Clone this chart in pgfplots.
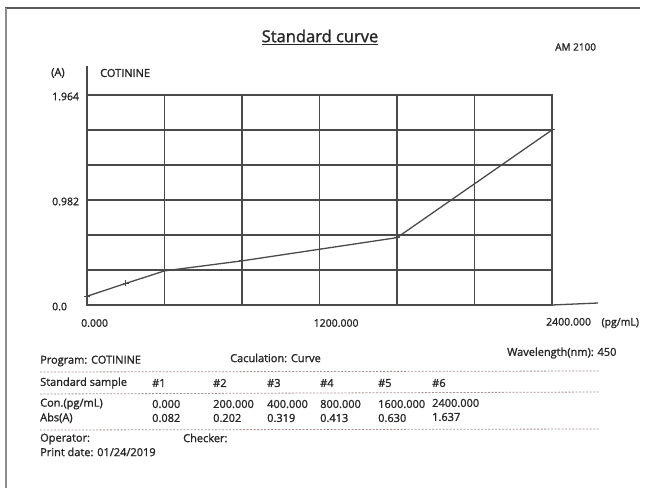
\documentclass[border=0pt]{standalone}
\usepackage{pgfplots}
\pgfplotsset{compat=1.18}
\usepackage{fontspec}
\setmainfont{Open Sans}[UprightFeatures={FakeBold=1.4}]
\definecolor{ink}{HTML}{262626}
\definecolor{gridc}{HTML}{4A4A4A}
\definecolor{dotc}{HTML}{A89090}
\begin{document}
\begin{tikzpicture}[every node/.style={inner sep=0pt, text=ink}]
\useasboundingbox (0,0) rectangle (647bp,-488bp);
\fill[white] (0,0) rectangle (647bp,-488bp);
% page frame
\draw[color=black!65, line width=1.5bp] (5bp,-8bp) -- (640bp,-8bp);
\draw[color=black!45, line width=2bp] (5.5bp,-8bp) -- (5.5bp,-488bp);
% title
\node at (320bp,-37bp) {\fontsize{16.5bp}{19bp}\selectfont\underline{Standard curve}};
\node[anchor=west] at (555bp,-47bp) {\fontsize{10bp}{12bp}\selectfont AM 2100};
\node[anchor=west] at (51bp,-73bp) {\fontsize{11bp}{13bp}\selectfont (A)};
\node[anchor=west] at (100bp,-73bp) {\fontsize{11bp}{13bp}\selectfont COTININE};
% axis extensions
\draw[color=gridc, line width=1.3bp] (87bp,-95bp) -- (87bp,-66bp);
\draw[color=gridc, line width=1.3bp] (552bp,-305bp) -- (598bp,-303bp);
\begin{axis}[
  at={(87bp,-305bp)}, anchor=south west,
  scale only axis, width=465bp, height=210bp,
  xmin=0, xmax=2400, ymin=0, ymax=1.964,
  xtick={0,1200,2400}, minor xtick={400,800,1600,2000},
  ytick={0,0.982,1.964}, minor ytick={0.32733,0.65467,1.30933,1.63667},
  xticklabels={0.000,1200.000,{2400.000\quad(pg/mL)}},
  yticklabels={0.0,0.982,1.964},
  grid=both,
  major grid style={color=gridc, line width=1.3bp},
  minor grid style={color=gridc, line width=1.3bp},
  axis line style={color=gridc, line width=1.3bp},
  major tick length=0pt, minor tick length=0pt,
  /pgf/number format/assume math mode=true,
  ticklabel style={font=\fontsize{10.5bp}{12bp}\selectfont, text=ink, inner sep=0pt},
  xticklabel style={anchor=west, xshift=-6bp, yshift=-18bp},
  yticklabel style={anchor=west, xshift=-35bp, yshift=-1.5bp},
  clip=false,
]
\addplot[color=gridc, line width=1.3bp, mark=+, mark size=3bp,
  mark options={line width=1bp}]
  coordinates {(0,0.082) (200,0.202) (400,0.319) (800,0.413) (1600,0.630) (2400,1.637)};
\end{axis}
% info table
\tikzset{t/.style={anchor=west, font=\fontsize{11bp}{13bp}\selectfont}}
\node[t] at (40bp,-361bp) {Program: COTININE};
\node[t] at (230bp,-358bp) {Caculation: Curve};
\node[t] at (507bp,-353bp) {Wavelength(nm): 450};
\draw[color=dotc, line width=0.8bp, dash pattern=on 2bp off 1.5bp] (40bp,-372bp) -- (600bp,-371bp);
\node[t] at (40bp,-383bp) {Standard sample};
\node[t] at (152bp,-383bp) {\#1};
\node[t] at (213bp,-383bp) {\#2};
\node[t] at (267bp,-383bp) {\#3};
\node[t] at (320bp,-383bp) {\#4};
\node[t] at (378bp,-383bp) {\#5};
\node[t] at (432bp,-383bp) {\#6};
\draw[color=dotc, line width=0.8bp, dash pattern=on 2bp off 1.5bp] (40bp,-394bp) -- (600bp,-392bp);
\node[t] at (40bp,-404bp) {Con.(pg/mL)};
\node[t] at (152bp,-404bp) {0.000};
\node[t] at (213bp,-404bp) {200.000};
\node[t] at (267bp,-404bp) {400.000};
\node[t] at (320bp,-404bp) {800.000};
\node[t] at (378bp,-404bp) {1600.000};
\node[t] at (432bp,-403bp) {2400.000};
\node[t] at (40bp,-418bp) {Abs(A)};
\node[t] at (152bp,-418bp) {0.082};
\node[t] at (213bp,-418bp) {0.202};
\node[t] at (267bp,-418bp) {0.319};
\node[t] at (320bp,-418bp) {0.413};
\node[t] at (378bp,-418bp) {0.630};
\node[t] at (432bp,-417bp) {1.637};
\draw[color=dotc, line width=0.8bp, dash pattern=on 2bp off 1.5bp] (40bp,-430bp) -- (600bp,-429bp);
\node[t] at (40bp,-439bp) {Operator:};
\node[t] at (183bp,-438bp) {Checker:};
\node[t] at (40bp,-452bp) {Print date: 01/24/2019};
\end{tikzpicture}
\end{document}
